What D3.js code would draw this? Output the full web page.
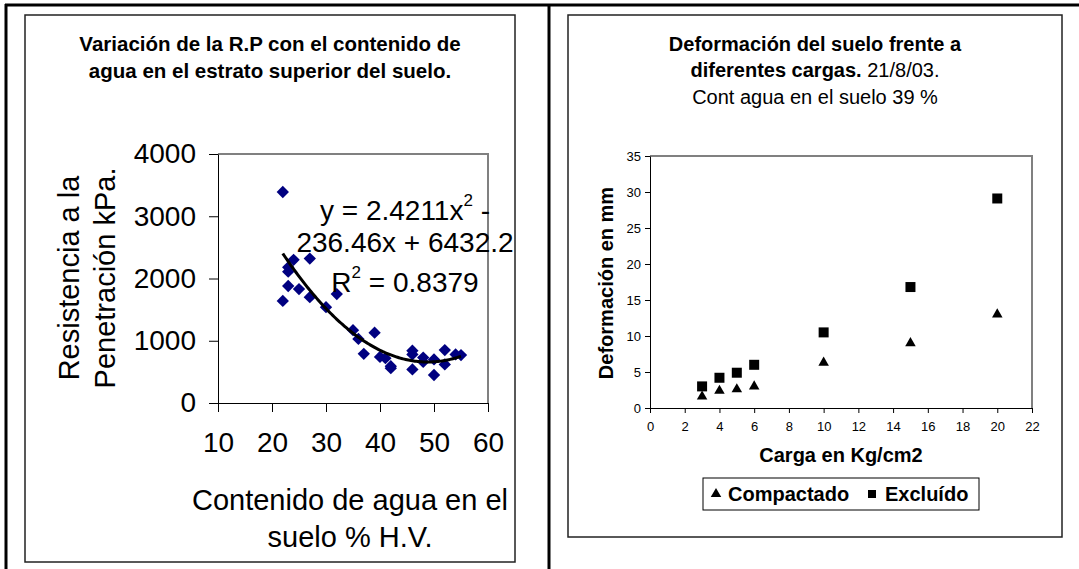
<!DOCTYPE html>
<html>
<head>
<meta charset="utf-8">
<script src="https://cdn.jsdelivr.net/npm/d3@7"></script>
<style>
  body { margin: 0; background: #fff; }
  text { fill: #000; }
</style>
</head>
<body>
<div id="chart"></div>
<script>
// Datos grafico 1: resistencia a la penetracion vs contenido de agua
const aguaHV = [22, 22, 23, 23, 23, 24, 25, 27, 27, 30, 32, 35, 36, 37, 39, 40, 41, 42, 42, 46, 46, 46, 48, 48, 50, 50, 52, 52, 54, 55];
const resistKPa = [3390, 1640, 2180, 2110, 1880, 2300, 1830, 2320, 1700, 1540, 1750, 1170, 1030, 790, 1130, 740, 720, 590, 560, 840, 540, 780, 730, 660, 700, 450, 850, 620, 780, 770];
// coeficientes de la linea de tendencia (y = a x^2 + b x + c), del grafico
const trendCoef = [2.4211, -236.46, 6432.2];
const trendRange = [22, 55];
const xTicks1 = [10, 20, 30, 40, 50, 60];
const yTicks1 = [0, 1000, 2000, 3000, 4000];

// Datos grafico 2: deformacion frente a cargas
const carga = [3, 4, 5, 6, 10, 15, 20];
const compactado = [1.6, 2.4, 2.6, 3.0, 6.3, 9.0, 13.0];
const excluido = [3.0, 4.2, 4.9, 6.0, 10.5, 16.8, 29.1];
const xTicks2 = d3.range(0, 23, 2);
const yTicks2 = d3.range(0, 36, 5);

const width = 1079;
const height = 569;
const font = "'Liberation Sans', Arial, sans-serif";

const svg = d3.select("#chart").append("svg")
    .attr("width", width)
    .attr("height", height)
    .style("font-family", font);

// marco de la tabla
svg.append("line").attr("x1", 5).attr("x2", width).attr("y1", 5).attr("y2", 5)
    .attr("stroke", "#000").attr("stroke-width", 3);
svg.append("line").attr("x1", 6).attr("x2", 6).attr("y1", 4).attr("y2", height)
    .attr("stroke", "#000").attr("stroke-width", 3);
svg.append("line").attr("x1", 549).attr("x2", 549).attr("y1", 4).attr("y2", height)
    .attr("stroke", "#000").attr("stroke-width", 3);

// cajas de los graficos
svg.append("rect").attr("x", 25).attr("y", 15).attr("width", 490).attr("height", 547)
    .attr("fill", "none").attr("stroke", "#222").attr("stroke-width", 1.5);
svg.append("rect").attr("x", 568).attr("y", 15).attr("width", 494).attr("height", 522)
    .attr("fill", "none").attr("stroke", "#222").attr("stroke-width", 1.5);

// ---------- Grafico 1 ----------
const x1 = d3.scaleLinear([10, 60], [218, 488]);
const y1 = d3.scaleLinear([0, 4000], [403, 154]);

svg.append("path")
    .attr("d", `M${x1(10)},${y1(4000)}H${x1(60)}V${y1(0)}`)
    .attr("fill", "none").attr("stroke", "#808080").attr("stroke-width", 2);

const ax1 = svg.append("g")
    .attr("transform", `translate(0,${y1(0)})`)
    .call(d3.axisBottom(x1).tickValues(xTicks1).tickFormat(d3.format("d"))
        .tickSize(9).tickSizeOuter(0).tickPadding(20));
const ay1 = svg.append("g")
    .attr("transform", `translate(${x1(10)},0)`)
    .call(d3.axisLeft(y1).tickValues(yTicks1).tickFormat(d3.format("d"))
        .tickSize(9).tickSizeOuter(0).tickPadding(13));
[ax1, ay1].forEach(g => {
    g.selectAll("text").attr("font-size", 28).attr("font-family", font).attr("fill", "#000");
    g.selectAll("line,path").attr("stroke", "#000");
});

// titulo
const t1 = svg.append("text").attr("text-anchor", "middle").attr("font-weight", "bold").attr("font-size", 20.5);
t1.append("tspan").attr("x", 270).attr("y", 51).text("Variación de la R.P con el contenido de");
t1.append("tspan").attr("x", 270).attr("y", 78).text("agua en el estrato superior del suelo.");

// puntos
svg.append("g").selectAll("path")
    .data(aguaHV.map((d, i) => [d, resistKPa[i]]))
    .join("path")
    .attr("d", d3.symbol(d3.symbolSquare, 76))
    .attr("transform", d => `translate(${x1(d[0])},${y1(d[1])}) rotate(45)`)
    .attr("fill", "#000080");

// linea de tendencia polinomica
const trendX = d3.range(trendRange[0], trendRange[1] + 0.01, 0.25);
const trendLine = d3.line()
    .x(d => x1(d))
    .y(d => y1(trendCoef[0] * d * d + trendCoef[1] * d + trendCoef[2]))
    .curve(d3.curveBasis);
svg.append("path")
    .attr("d", trendLine(trendX))
    .attr("fill", "none").attr("stroke", "#000").attr("stroke-width", 3);

// ecuacion
const eq = svg.append("g").attr("font-size", 28).attr("text-anchor", "middle");
const e1 = eq.append("text").attr("x", 405).attr("y", 220);
e1.append("tspan").text("y = 2.4211x");
e1.append("tspan").attr("font-size", 17).attr("dy", -14).text("2");
e1.append("tspan").attr("dy", 14).text(" -");
eq.append("text").attr("x", 405).attr("y", 252).text("236.46x + 6432.2");
const e3 = eq.append("text").attr("x", 405).attr("y", 292);
e3.append("tspan").text("R");
e3.append("tspan").attr("font-size", 17).attr("dy", -14).text("2");
e3.append("tspan").attr("dy", 14).text(" = 0.8379");

// titulos de ejes
const yt1 = svg.append("text").attr("text-anchor", "middle").attr("font-size", 29)
    .attr("transform", "translate(0,278) rotate(-90)");
yt1.append("tspan").attr("x", 0).attr("y", 79).text("Resistencia a la");
yt1.append("tspan").attr("x", 0).attr("y", 115).text("Penetración kPa.");
const xt1 = svg.append("text").attr("text-anchor", "middle").attr("font-size", 29);
xt1.append("tspan").attr("x", 350).attr("y", 510).text("Contenido de agua en el");
xt1.append("tspan").attr("x", 350).attr("y", 547).text("suelo % H.V.");

// ---------- Grafico 2 ----------
const x2 = d3.scaleLinear([0, 22], [650, 1032]);
const y2 = d3.scaleLinear([0, 35], [408, 156]);

svg.append("path")
    .attr("d", `M${x2(0)},${y2(35)}H${x2(22)}V${y2(0)}`)
    .attr("fill", "none").attr("stroke", "#808080").attr("stroke-width", 2);

const ax2 = svg.append("g")
    .attr("transform", `translate(0,${y2(0)})`)
    .call(d3.axisBottom(x2).tickValues(xTicks2).tickSize(5).tickSizeOuter(0).tickPadding(9));
const ay2 = svg.append("g")
    .attr("transform", `translate(${x2(0)},0)`)
    .call(d3.axisLeft(y2).tickValues(yTicks2).tickSize(5).tickSizeOuter(0).tickPadding(4));
[ax2, ay2].forEach(g => {
    g.selectAll("text").attr("font-size", 13).attr("font-family", font).attr("fill", "#000");
    g.selectAll("line,path").attr("stroke", "#000");
});

const t2 = svg.append("text").attr("text-anchor", "middle").attr("font-size", 20);
t2.append("tspan").attr("x", 815).attr("y", 51).attr("font-weight", "bold").text("Deformación del suelo frente a");
const t2b = t2.append("tspan").attr("x", 815).attr("y", 77);
t2b.append("tspan").attr("font-weight", "bold").text("diferentes cargas.");
t2b.append("tspan").text(" 21/8/03.");
t2.append("tspan").attr("x", 815).attr("y", 104).text("Cont agua en el suelo 39 %");

svg.append("g").selectAll("path")
    .data(carga.map((d, i) => [d, compactado[i]]))
    .join("path")
    .attr("d", d3.symbol(d3.symbolTriangle, 48))
    .attr("transform", d => `translate(${x2(d[0])},${y2(d[1])})`)
    .attr("fill", "#000");
svg.append("g").selectAll("path")
    .data(carga.map((d, i) => [d, excluido[i]]))
    .join("path")
    .attr("d", d3.symbol(d3.symbolSquare, 100))
    .attr("transform", d => `translate(${x2(d[0])},${y2(d[1])})`)
    .attr("fill", "#000");

svg.append("text").attr("text-anchor", "middle").attr("font-size", 20).attr("font-weight", "bold")
    .attr("transform", "translate(613,283) rotate(-90)")
    .text("Deformación en mm");
svg.append("text").attr("text-anchor", "middle").attr("font-size", 20).attr("font-weight", "bold")
    .attr("x", 841).attr("y", 462)
    .text("Carga en Kg/cm2");

// leyenda
const leg = svg.append("g");
leg.append("rect").attr("x", 703).attr("y", 478).attr("width", 276).attr("height", 32)
    .attr("fill", "#fff").attr("stroke", "#000").attr("stroke-width", 1);
const legItems = [["Compactado", d3.symbolTriangle, 48, 716, 728], ["Excluído", d3.symbolSquare, 64, 872, 885]];
legItems.forEach(([name, sym, size, sx, tx]) => {
    leg.append("path").attr("d", d3.symbol(sym, size))
        .attr("transform", `translate(${sx},494)`).attr("fill", "#000");
    leg.append("text").attr("x", tx).attr("y", 501).attr("font-size", 20).attr("font-weight", "bold").text(name);
});
</script>
</body>
</html>
